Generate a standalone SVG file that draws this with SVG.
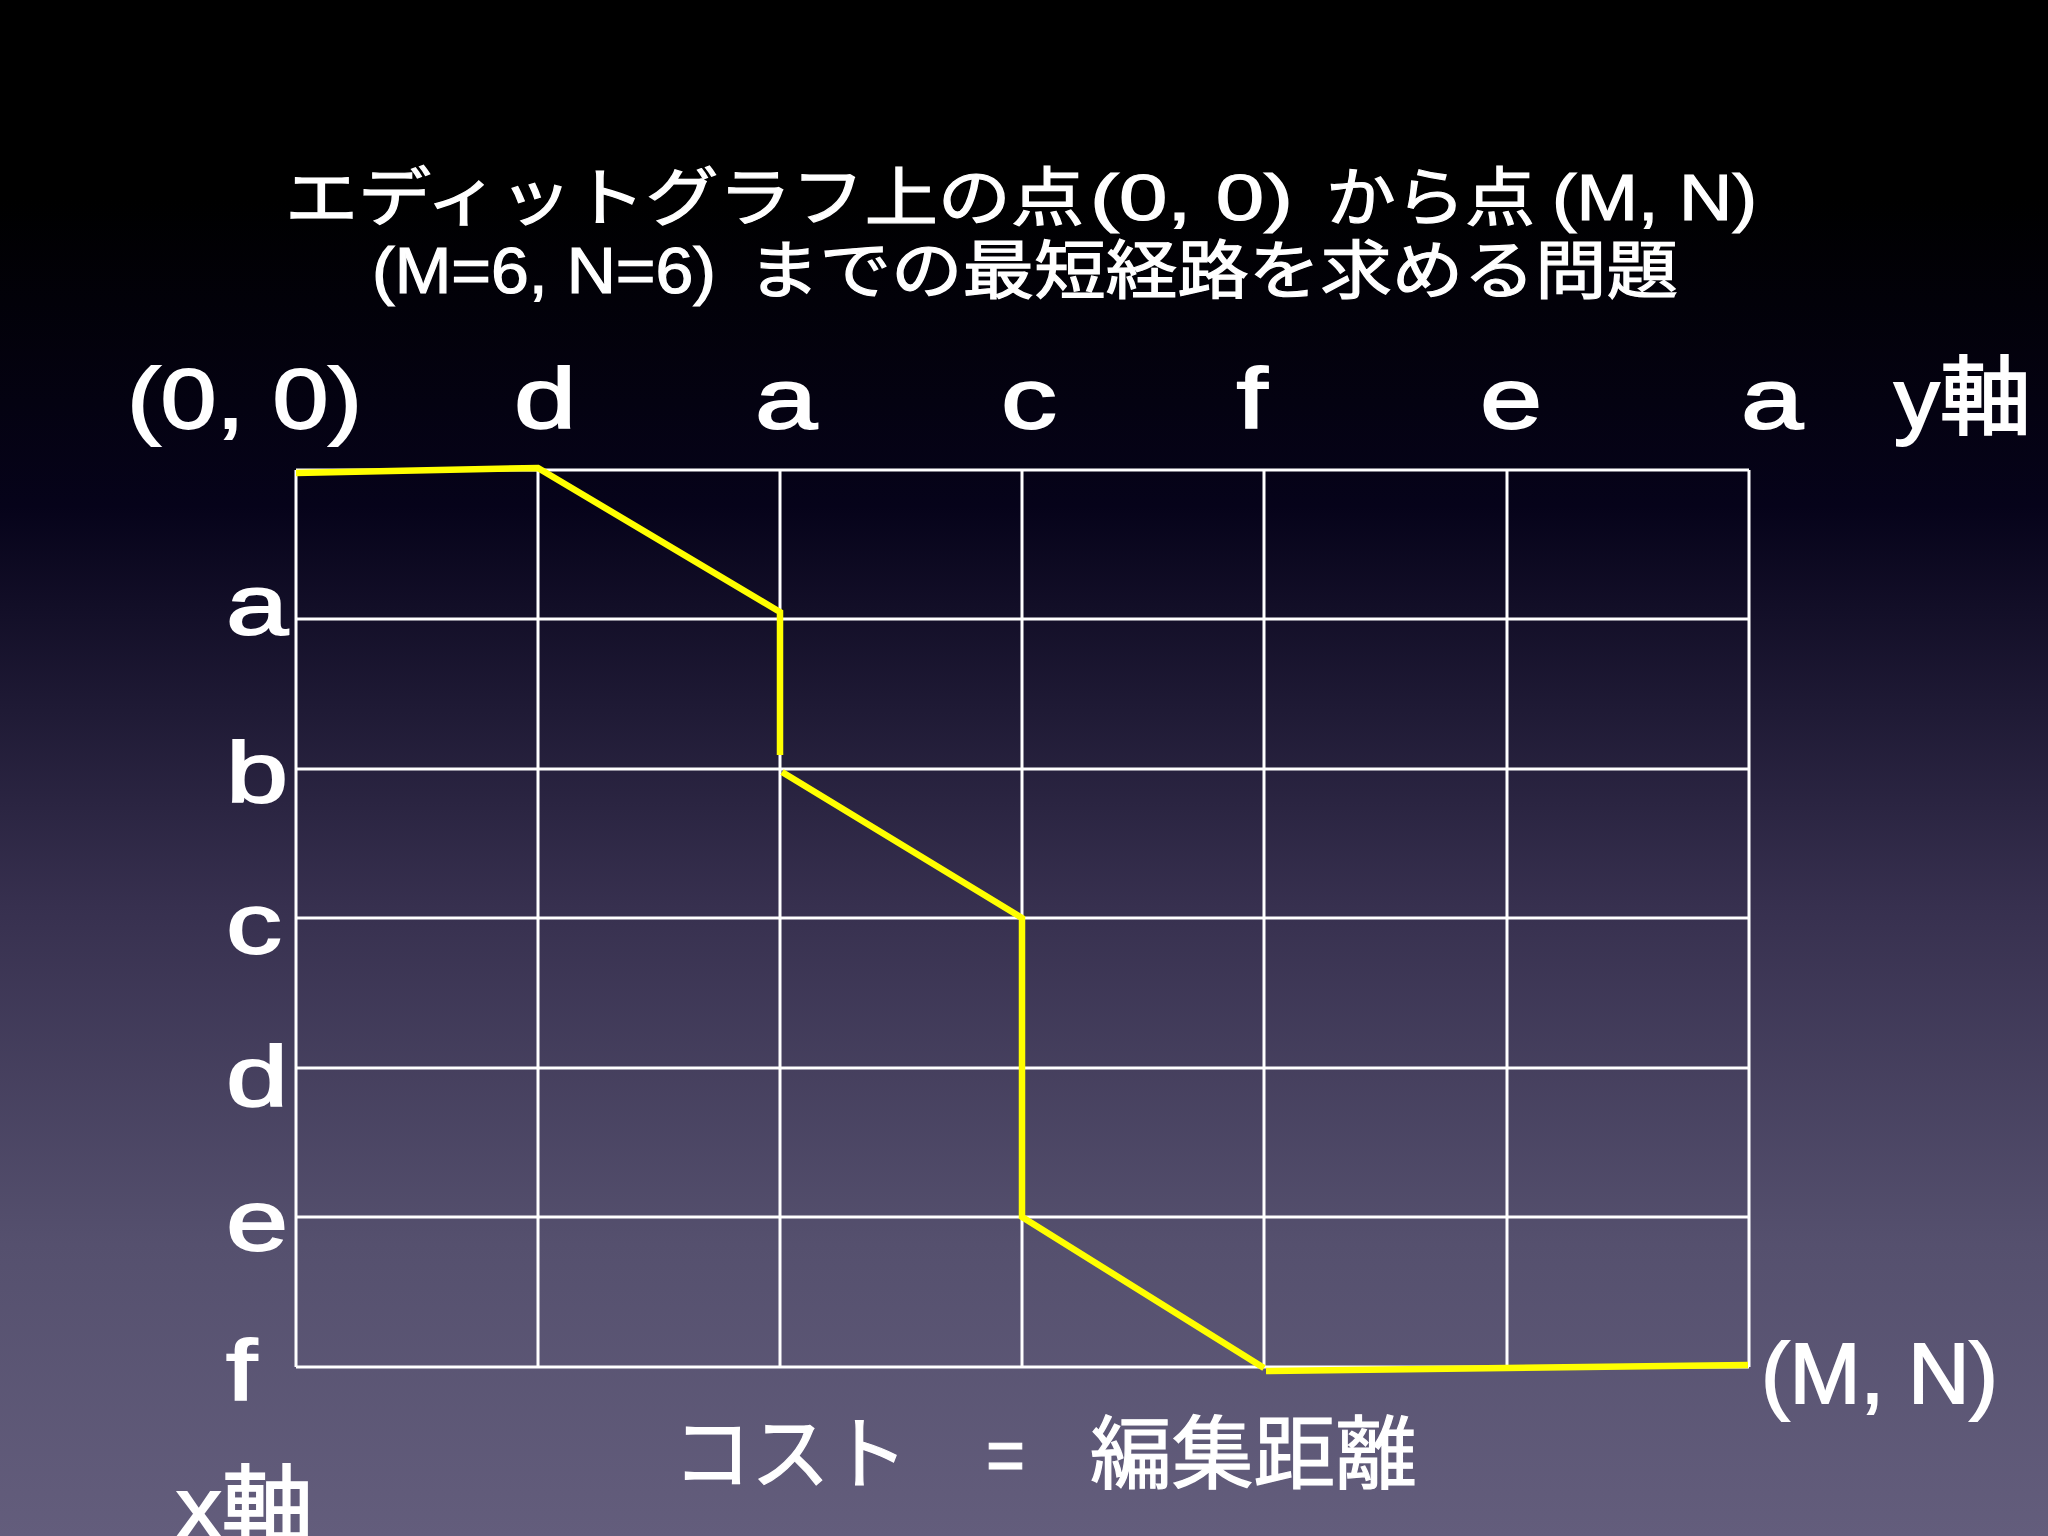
<svg xmlns="http://www.w3.org/2000/svg" width="2048" height="1536" viewBox="0 0 2048 1536">
  <defs>
    <linearGradient id="bg" x1="0" y1="0" x2="0" y2="1">
      <stop offset="0" stop-color="#000000"/>
      <stop offset="0.13" stop-color="#000000"/>
      <stop offset="0.33" stop-color="#06031a"/>
      <stop offset="0.59" stop-color="#37304f"/>
      <stop offset="0.81" stop-color="#55506e"/>
      <stop offset="1" stop-color="#635d7c"/>
    </linearGradient>
    <style>
      .t { fill: #ffffff; stroke: #ffffff; font-family: "Liberation Sans", "Noto Sans CJK JP", sans-serif; }
      .title { font-size: 64px; stroke-width: 1.2; }
      .lbl { font-size: 86px; stroke-width: 1.8; }
      .cjk { font-size: 80px; stroke-width: 1.2; }
      .grid line { stroke: #ffffff; stroke-width: 3; }
      .path { fill: none; stroke: #ffff00; stroke-width: 6.5; stroke-linejoin: miter; }
    </style>
  </defs>
  <rect x="0" y="0" width="2048" height="1536" fill="url(#bg)"/>

  <g id="title">
    <text class="t title" x="285" y="220" textLength="799" lengthAdjust="spacingAndGlyphs">エディットグラフ上の点</text>
    <text class="t title" x="1090" y="220" textLength="203" lengthAdjust="spacingAndGlyphs">(0, 0)</text>
    <text class="t title" x="1326" y="220" textLength="209" lengthAdjust="spacingAndGlyphs">から点</text>
    <text class="t title" x="1552" y="220" textLength="205" lengthAdjust="spacingAndGlyphs">(M, N)</text>
    <text class="t title" x="372" y="293" textLength="344" lengthAdjust="spacingAndGlyphs">(M=6, N=6)</text>
    <text class="t title" x="748" y="293" textLength="930" lengthAdjust="spacingAndGlyphs">までの最短経路を求める問題</text>
  </g>

  <g id="grid" class="grid">
    <line x1="296" y1="470" x2="1749" y2="470"/>
    <line x1="296" y1="619" x2="1749" y2="619"/>
    <line x1="296" y1="769" x2="1749" y2="769"/>
    <line x1="296" y1="918" x2="1749" y2="918"/>
    <line x1="296" y1="1068" x2="1749" y2="1068"/>
    <line x1="296" y1="1217" x2="1749" y2="1217"/>
    <line x1="296" y1="1367" x2="1749" y2="1367"/>
    <line x1="296" y1="470" x2="296" y2="1367"/>
    <line x1="538" y1="470" x2="538" y2="1367"/>
    <line x1="780" y1="470" x2="780" y2="1367"/>
    <line x1="1022" y1="470" x2="1022" y2="1367"/>
    <line x1="1264" y1="470" x2="1264" y2="1367"/>
    <line x1="1507" y1="470" x2="1507" y2="1367"/>
    <line x1="1749" y1="470" x2="1749" y2="1367"/>
  </g>

  <g id="connectors">
    <path class="path" d="M296,473 L538,468 L780,612 L780,755"/>
    <path class="path" d="M782,772 L1022,918 L1022,1217 L1264,1368"/>
    <path class="path" d="M1266,1371 L1748,1365"/>
  </g>

  <g id="top-labels">
    <text class="t lbl" x="127" y="428" textLength="235" lengthAdjust="spacingAndGlyphs">(0, 0)</text>
    <text class="t lbl" text-anchor="middle" transform="translate(545,428) scale(1.3,1)">d</text>
    <text class="t lbl" text-anchor="middle" transform="translate(786,428) scale(1.3,1)">a</text>
    <text class="t lbl" text-anchor="middle" transform="translate(1029,428) scale(1.3,1)">c</text>
    <text class="t lbl" text-anchor="middle" transform="translate(1252,428) scale(1.3,1)">f</text>
    <text class="t lbl" text-anchor="middle" transform="translate(1511,428) scale(1.3,1)">e</text>
    <text class="t lbl" text-anchor="middle" transform="translate(1772,428) scale(1.3,1)">a</text>
    <text class="t lbl" x="1894" y="428" textLength="137" lengthAdjust="spacingAndGlyphs">y軸</text>
  </g>

  <g id="row-labels">
    <text class="t lbl" transform="translate(226,634) scale(1.3,1)">a</text>
    <text class="t lbl" transform="translate(226,802) scale(1.3,1)">b</text>
    <text class="t lbl" transform="translate(226,953) scale(1.3,1)">c</text>
    <text class="t lbl" transform="translate(226,1106) scale(1.3,1)">d</text>
    <text class="t lbl" transform="translate(226,1250) scale(1.3,1)">e</text>
    <text class="t lbl" transform="translate(226,1400) scale(1.3,1)">f</text>
    <text class="t lbl" x="176" y="1537" textLength="137" lengthAdjust="spacingAndGlyphs">x軸</text>
  </g>

  <g id="end-label">
    <text class="t lbl" x="1761" y="1403" textLength="237" lengthAdjust="spacingAndGlyphs">(M, N)</text>
  </g>

  <g id="cost">
    <text class="t cjk" x="673" y="1482" textLength="235" lengthAdjust="spacingAndGlyphs">コスト</text>
    <text class="t cjk" x="986" y="1482" textLength="39" lengthAdjust="spacingAndGlyphs">=</text>
    <text class="t cjk" x="1090" y="1482" textLength="327" lengthAdjust="spacingAndGlyphs">編集距離</text>
  </g>
</svg>
